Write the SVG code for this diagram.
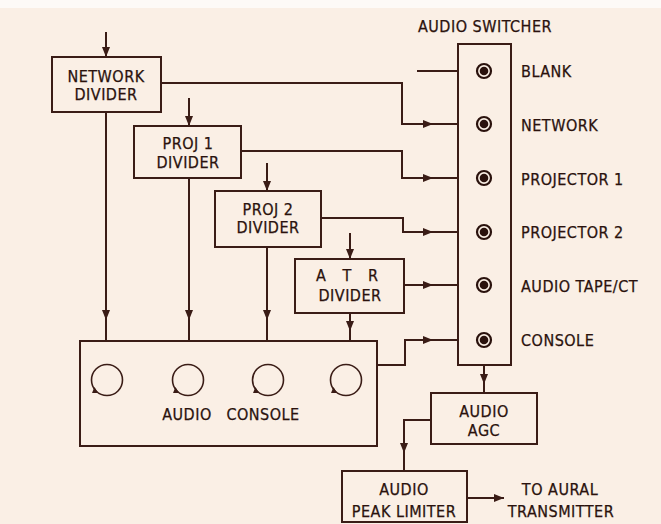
<svg xmlns="http://www.w3.org/2000/svg" width="661" height="524" viewBox="0 0 661 524">
<defs>
<style>
.bx{fill:none;stroke:#3a1c16;stroke-width:2}
.ln{fill:none;stroke:#3a1c16;stroke-width:2}
.t{font-family:"DejaVu Sans Condensed","DejaVu Sans",sans-serif;font-size:16px;fill:#2a120d;letter-spacing:0.5px;stroke:#2a120d;stroke-width:0.25}
.m{text-anchor:middle}
.jo{fill:none;stroke:#2a120d;stroke-width:2.2}
.ji{fill:#2a120d}
.kn{fill:none;stroke:#3a1c16;stroke-width:1.6}
</style>
<marker id="ah" viewBox="0 0 10 8" refX="10" refY="4" markerWidth="10" markerHeight="8" markerUnits="userSpaceOnUse" orient="auto">
<path d="M0,0 L10,4 L0,8 Z" fill="#3a1c16"/>
</marker>
</defs>
<rect width="661" height="524" fill="#faefe5"/>
<rect width="661" height="8" fill="#fdfaf7"/>

<g id="connectors">
<path class="ln" d="M106,32 V57"/>
<path class="ln" d="M106,40 V57" marker-end="url(#ah)"/>
<path class="ln" d="M189,98 V126"/>
<path class="ln" d="M189,110 V126" marker-end="url(#ah)"/>
<path class="ln" d="M267,163 V191"/>
<path class="ln" d="M267,175 V191" marker-end="url(#ah)"/>
<path class="ln" d="M350,233 V259"/>
<path class="ln" d="M350,243 V259" marker-end="url(#ah)"/>

<path class="ln" d="M417,71 H458"/>
<path class="ln" d="M161,83 H402 V124 H458"/>
<path class="ln" d="M410,124 H433" marker-end="url(#ah)"/>
<path class="ln" d="M241,151 H402 V178 H458"/>
<path class="ln" d="M410,178 H433" marker-end="url(#ah)"/>
<path class="ln" d="M321,218 H403 V232 H458"/>
<path class="ln" d="M410,232 H433" marker-end="url(#ah)"/>
<path class="ln" d="M404,285 H458"/>
<path class="ln" d="M410,285 H433" marker-end="url(#ah)"/>
<path class="ln" d="M377,365 H405 V340 H458"/>
<path class="ln" d="M410,340 H433" marker-end="url(#ah)"/>

<path class="ln" d="M106,112 V341"/>
<path class="ln" d="M106,300 V320" marker-end="url(#ah)"/>
<path class="ln" d="M189,178 V341"/>
<path class="ln" d="M189,300 V320" marker-end="url(#ah)"/>
<path class="ln" d="M267,247 V341"/>
<path class="ln" d="M267,300 V320" marker-end="url(#ah)"/>
<path class="ln" d="M350,313 V341"/>
<path class="ln" d="M350,315 V331" marker-end="url(#ah)"/>

<path class="ln" d="M484,365 V393"/>
<path class="ln" d="M484,368 V384" marker-end="url(#ah)"/>
<path class="ln" d="M431,420 H404 V471"/>
<path class="ln" d="M404,435 V453" marker-end="url(#ah)"/>
<path class="ln" d="M467,498 H504" marker-end="url(#ah)"/>
</g>

<g id="network-divider">
<rect class="bx" x="52" y="57" width="109" height="55"/>
<text class="t m" x="106" y="82">NETWORK</text>
<text class="t m" x="106" y="100">DIVIDER</text>
</g>

<g id="proj1-divider">
<rect class="bx" x="134" y="126" width="107" height="52"/>
<text class="t m" x="188" y="149">PROJ 1</text>
<text class="t m" x="188" y="168">DIVIDER</text>
</g>

<g id="proj2-divider">
<rect class="bx" x="215" y="191" width="106" height="56"/>
<text class="t m" x="268" y="215">PROJ 2</text>
<text class="t m" x="268" y="233">DIVIDER</text>
</g>

<g id="atr-divider">
<rect class="bx" x="295" y="259" width="109" height="54"/>
<text class="t m" x="350" y="281" style="letter-spacing:6px">A T R</text>
<text class="t m" x="350" y="301">DIVIDER</text>
</g>

<g id="console">
<rect class="bx" x="80" y="341" width="297" height="105"/>
<circle class="kn" cx="107" cy="380" r="15.5"/>
<path d="M92,393 L98,393 L94.5,387 Z" fill="#3a1c16"/>
<circle class="kn" cx="188" cy="380" r="15.5"/>
<path d="M173,393 L179,393 L175.5,387 Z" fill="#3a1c16"/>
<circle class="kn" cx="268" cy="380" r="15.5"/>
<path d="M253,393 L259,393 L255.5,387 Z" fill="#3a1c16"/>
<circle class="kn" cx="346" cy="380" r="15.5"/>
<path d="M331,393 L337,393 L333.5,387 Z" fill="#3a1c16"/>
<text class="t m" x="187" y="420">AUDIO</text>
<text class="t m" x="263" y="420">CONSOLE</text>
</g>

<g id="audio-switcher">
<text class="t m" x="485" y="32">AUDIO SWITCHER</text>
<rect class="bx" x="458" y="44" width="53" height="321"/>
<circle class="jo" cx="484" cy="71" r="7"/><circle class="ji" cx="484" cy="71" r="4.3"/>
<circle class="jo" cx="484" cy="124" r="7"/><circle class="ji" cx="484" cy="124" r="4.3"/>
<circle class="jo" cx="484" cy="178" r="7"/><circle class="ji" cx="484" cy="178" r="4.3"/>
<circle class="jo" cx="484" cy="232" r="7"/><circle class="ji" cx="484" cy="232" r="4.3"/>
<circle class="jo" cx="484" cy="285" r="7"/><circle class="ji" cx="484" cy="285" r="4.3"/>
<circle class="jo" cx="484" cy="340" r="7"/><circle class="ji" cx="484" cy="340" r="4.3"/>
<text class="t" x="521" y="77">BLANK</text>
<text class="t" x="521" y="131">NETWORK</text>
<text class="t" x="521" y="185">PROJECTOR 1</text>
<text class="t" x="521" y="238">PROJECTOR 2</text>
<text class="t" x="521" y="292">AUDIO TAPE/CT</text>
<text class="t" x="521" y="346">CONSOLE</text>
</g>

<g id="audio-agc">
<rect class="bx" x="431" y="393" width="106" height="51"/>
<text class="t m" x="484" y="417">AUDIO</text>
<text class="t m" x="484" y="436">AGC</text>
</g>

<g id="peak-limiter">
<rect class="bx" x="342" y="471" width="125" height="51"/>
<text class="t m" x="404" y="495">AUDIO</text>
<text class="t m" x="404" y="517">PEAK LIMITER</text>
</g>

<g id="aural-transmitter">
<text class="t m" x="560" y="495">TO AURAL</text>
<text class="t m" x="561" y="517">TRANSMITTER</text>
</g>
</svg>
